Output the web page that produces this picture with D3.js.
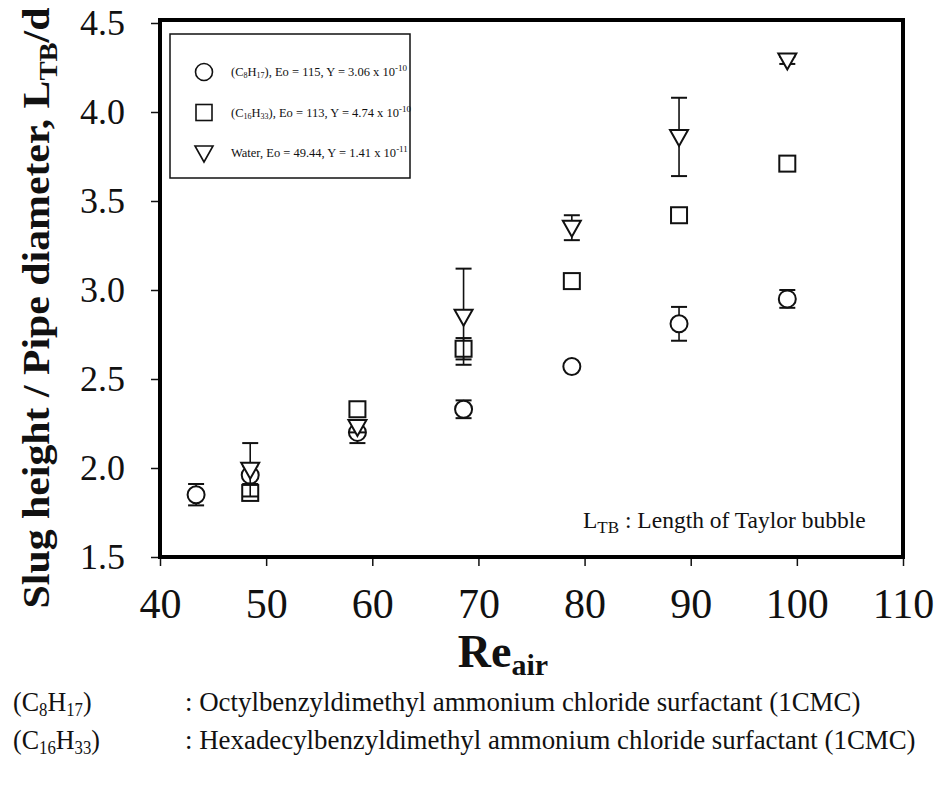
<!DOCTYPE html>
<html>
<head>
<meta charset="utf-8">
<script src="https://cdn.jsdelivr.net/npm/d3@7"></script>
<style>
  body { margin: 0; background: #fff; }
  text { font-family: "Liberation Serif", "Times New Roman", serif; }
</style>
</head>
<body>
<div id="chart"></div>
<script>
// data
const reAir = [43.4, 48.5, 58.6, 68.6, 78.8, 88.9, 99.1];
const c8Values = [1.85, 1.96, 2.20, 2.33, 2.57, 2.81, 2.95];
const c8Errors = [0.06, 0.05, 0.06, 0.05, 0.0, 0.095, 0.05];
const c16Values = [null, 1.86, 2.33, 2.67, 3.05, 3.42, 3.71];
const c16Errors = [null, 0.04, 0.03, 0.06, 0.0, 0.0, 0.0];
const waterValues = [null, 1.99, 2.23, 2.85, 3.35, 3.86, 4.29];
const waterErrors = [null, 0.15, 0.03, 0.27, 0.07, 0.22, 0.02];
const xTicks = [40, 50, 60, 70, 80, 90, 100, 110];
const yTicks = [1.5, 2.0, 2.5, 3.0, 3.5, 4.0, 4.5];

const width = 935, height = 786;
const plotLeft = 160, plotRight = 903, plotTop = 20, plotBottom = 557;

const svg = d3.select("#chart")
    .append("svg")
    .attr("width", width)
    .attr("height", height);

const x = d3.scaleLinear().domain([40, 110]).range([plotLeft, plotRight]);
const y = d3.scaleLinear().domain([1.5, 4.5]).range([plotBottom, plotTop + 3]);

// axes
const xAxis = svg.append("g")
    .attr("transform", `translate(0, ${plotBottom})`)
    .call(d3.axisBottom(x).tickValues(xTicks).tickSize(9).tickPadding(22).tickFormat(d3.format("d")));
const yAxis = svg.append("g")
    .attr("transform", `translate(${plotLeft}, 0)`)
    .call(d3.axisLeft(y).tickValues(yTicks).tickSize(9).tickPadding(26).tickFormat(d3.format(".1f")));

[xAxis, yAxis].forEach(g => {
    g.select(".domain").remove();
    g.selectAll("line").attr("stroke", "#111").attr("stroke-width", 1.5);
    g.selectAll("text")
        .attr("fill", "#111")
        .style("font-family", "'Liberation Serif', serif");
});
xAxis.selectAll("text").attr("dy", "0.72em").style("font-size", "42px");
yAxis.selectAll("text").style("font-size", "36px");

// frame
svg.append("rect")
    .attr("x", plotLeft)
    .attr("y", plotTop)
    .attr("width", plotRight - plotLeft)
    .attr("height", plotBottom - plotTop)
    .attr("fill", "none")
    .attr("stroke", "#000")
    .attr("stroke-width", 4);

const series = [
    { name: "c8", values: c8Values, errors: c8Errors, shape: "circle" },
    { name: "c16", values: c16Values, errors: c16Errors, shape: "square" },
    { name: "water", values: waterValues, errors: waterErrors, shape: "triangle" }
];

function drawMarker(g, shape, cx, cy) {
    if (shape === "circle") {
        g.append("circle").attr("cx", cx).attr("cy", cy).attr("r", 8.5);
    } else if (shape === "square") {
        g.append("rect").attr("x", cx - 8).attr("y", cy - 8).attr("width", 16).attr("height", 16);
    } else {
        g.append("path").attr("d", `M${cx - 9},${cy - 7}L${cx + 9},${cy - 7}L${cx},${cy + 9}Z`);
    }
}

const plot = svg.append("g")
    .attr("fill", "#fff")
    .attr("stroke", "#111")
    .attr("stroke-width", 2);

series.forEach(s => {
    reAir.forEach((r, i) => {
        const v = s.values[i];
        if (v === null) return;
        const e = s.errors[i];
        const cx = x(r);
        if (e > 0) {
            const y0 = y(v - e), y1 = y(v + e);
            plot.append("line").attr("x1", cx).attr("x2", cx).attr("y1", y0).attr("y2", y1).attr("stroke-width", 1.6);
            plot.append("line").attr("x1", cx - 8).attr("x2", cx + 8).attr("y1", y0).attr("y2", y0);
            plot.append("line").attr("x1", cx - 8).attr("x2", cx + 8).attr("y1", y1).attr("y2", y1);
        }
        drawMarker(plot, s.shape, cx, y(v));
    });
});

// legend
const legend = svg.append("g");
legend.append("rect")
    .attr("x", 170).attr("y", 34)
    .attr("width", 240).attr("height", 144)
    .attr("fill", "#fff").attr("stroke", "#111").attr("stroke-width", 1.5);

const legendRows = [
    { shape: "circle", parts: [["(C", 0], ["8", -1], ["H", 0], ["17", -1], ["), Eo = 115, Y = 3.06 x 10", 0], ["-10", 1]] },
    { shape: "square", parts: [["(C", 0], ["16", -1], ["H", 0], ["33", -1], ["), Eo = 113, Y = 4.74 x 10", 0], ["-10", 1]] },
    { shape: "triangle", parts: [["Water, Eo = 49.44, Y = 1.41 x 10", 0], ["-11", 1]] }
];
legendRows.forEach((row, i) => {
    const ly = 72 + i * 40.5;
    const mg = legend.append("g").attr("fill", "#fff").attr("stroke", "#111").attr("stroke-width", 1.6);
    drawMarker(mg, row.shape, 204, ly);
    const t = legend.append("text")
        .attr("x", 231).attr("y", ly + 4)
        .style("font-size", "12.5px")
        .attr("fill", "#111");
    row.parts.forEach(p => {
        const ts = t.append("tspan").text(p[0]);
        if (p[1] === -1) ts.attr("baseline-shift", "-30%").style("font-size", "8px");
        if (p[1] === 1) ts.attr("baseline-shift", "55%").style("font-size", "9px");
    });
});

// note inside plot
const note = svg.append("text")
    .attr("x", 583).attr("y", 528)
    .style("font-size", "23.5px")
    .attr("fill", "#111");
note.append("tspan").text("L");
note.append("tspan").text("TB").attr("baseline-shift", "-30%").style("font-size", "17px");
note.append("tspan").text(" : Length of Taylor bubble");

// axis titles
const yTitle = svg.append("text")
    .attr("transform", `translate(49, 308) rotate(-90) scale(1.1, 1)`)
    .attr("text-anchor", "middle")
    .style("font-size", "38px")
    .style("font-weight", "bold")
    .attr("fill", "#111");
yTitle.append("tspan").text("Slug height / Pipe diameter, L");
yTitle.append("tspan").text("TB").attr("baseline-shift", "-30%").style("font-size", "26px");
yTitle.append("tspan").text("/d");

const xTitle = svg.append("text")
    .attr("x", 503).attr("y", 667)
    .attr("text-anchor", "middle")
    .style("font-size", "46px")
    .style("font-weight", "bold")
    .attr("fill", "#111");
xTitle.append("tspan").text("Re");
xTitle.append("tspan").text("air").attr("baseline-shift", "-25%").style("font-size", "30px");

// footnotes
const footnotes = [
    { sub: [["(C", 0], ["8", 1], ["H", 0], ["17", 1], [")", 0]], desc: ": Octylbenzyldimethyl ammonium chloride surfactant (1CMC)" },
    { sub: [["(C", 0], ["16", 1], ["H", 0], ["33", 1], [")", 0]], desc: ": Hexadecylbenzyldimethyl ammonium chloride surfactant (1CMC)" }
];
footnotes.forEach((f, i) => {
    const fy = 711 + i * 38;
    const t = svg.append("text")
        .attr("transform", `translate(13, ${fy}) scale(0.93, 1)`)
        .style("font-size", "28px").attr("fill", "#111");
    f.sub.forEach(p => {
        const ts = t.append("tspan").text(p[0]);
        if (p[1] === 1) ts.attr("baseline-shift", "-30%").style("font-size", "18px");
    });
    svg.append("text")
        .attr("transform", `translate(185, ${fy}) scale(0.96, 1)`)
        .style("font-size", "28px").attr("fill", "#111").text(f.desc);
});
</script>
</body>
</html>
